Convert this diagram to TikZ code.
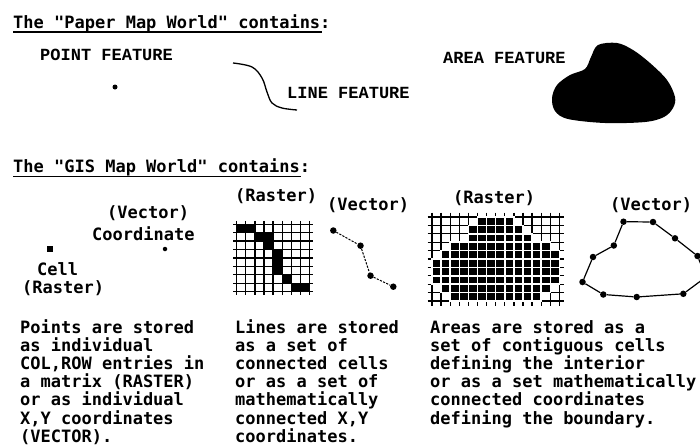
\documentclass[tikz,border=0pt]{standalone}
\usepackage{fontspec}
\newfontfamily\pixfont{DejaVu Sans Mono}
\newfontfamily\labfont{Liberation Mono}
\begin{document}
\begin{tikzpicture}[x=1pt,y=-1pt,
  txt/.style={font=\fontsize{17}{18.33}\pixfont\bfseries, anchor=base west, inner sep=0pt},
  lab/.style={font=\fontsize{17}{20}\labfont\bfseries, anchor=base west, inner sep=0pt},
  gline/.style={line width=1.3pt},
  vdot/.style={circle, fill=black, inner sep=0pt, minimum size=6.5pt},
  sdot/.style={circle, fill=black, inner sep=0pt, minimum size=4.5pt},
  uline/.style={line width=1.4pt},
]
\useasboundingbox (0,0) rectangle (700,447);
\clip (0,0) rectangle (700,447);

% ---------- Paper map world ----------
\node[txt] (h1) at (13,28) {The "Paper Map World" contains:};
\draw[uline] (13,31.8) -- (322,31.8);

\node[lab] (pf) at (40,60) {POINT FEATURE};
\node[sdot, minimum size=5pt] (pdot) at (115,87) {};

\draw[line width=1.3pt] plot[smooth, tension=0.6] coordinates {(233,63) (252,67) (262,78) (267,92) (272,103) (282,108) (297,110)};
\node[lab] (lf) at (287,98) {LINE FEATURE};

\node[lab] (af) at (443,63) {AREA FEATURE};
\fill[black] plot[smooth cycle, tension=0.55] coordinates {(598,45) (617,43) (633,50) (650,63) (667,80) (675,97) (673,108) (664,117) (645,122) (605,123) (568,119) (555,111) (552,98) (557,85) (570,75) (585,69) (591,57)};

% ---------- GIS map world ----------
\node[txt] (h2) at (13,172) {The "GIS Map World" contains:};
\draw[uline] (13,176.5) -- (301,176.5);

% points
\node[txt] (cv) at (107,218) {(Vector)};
\node[txt] (cc) at (92,240) {Coordinate};
\node[fill=black, minimum size=6pt, inner sep=0pt] (cellsq) at (50,249) {};
\node[sdot] (cdot) at (165,249) {};
\node[txt] (cl) at (37,275) {Cell};
\node[txt] (cr) at (22,293) {(Raster)};

% line raster
\node[txt] (lr) at (235,201) {(Raster)};
\def\lx{236.7}\def\ly{224.3}\def\cw{9.1}\def\ch{8.42}
\foreach \c/\r in {0/0,1/0,2/1,3/1,3/2,4/3,4/4,4/5,5/6,6/7,7/7}
  \fill[black] (\lx+\c*\cw,\ly+\r*\ch) rectangle (\lx+\c*\cw+\cw,\ly+\r*\ch+\ch);
\foreach \k in {0,...,8} {
  \draw[gline] (\lx+\k*\cw,\ly-3.5) -- (\lx+\k*\cw,\ly+8*\ch+3.5);
  \draw[gline] (\lx-3.5,\ly+\k*\ch) -- (\lx+8*\cw+3.5,\ly+\k*\ch);
}

% line vector
\node[txt] (lvt) at (327,210) {(Vector)};
\node[vdot] (v1) at (333.3,230.5) {};
\node[vdot] (v2) at (360.5,245.7) {};
\node[vdot] (v3) at (370.5,275.7) {};
\node[vdot] (v4) at (393.3,286.7) {};
\draw[line width=1pt, dash pattern=on 2.2pt off 1.3pt] (v1) -- (v2) -- (v3) -- (v4);

% area raster
\node[txt] (ar) at (453,203) {(Raster)};
\def\ax{432}\def\ay{217}\def\aw{9.1}\def\ah{8.4}
\foreach \k in {0,...,14}
  \draw[gline] (\ax+\k*\aw,\ay-4.5) -- (\ax+\k*\aw,\ay+10*\ah+4.5);
\foreach \k in {0,...,10}
  \draw[gline] (\ax-4.5,\ay+\k*\ah) -- (\ax+14*\aw+4.5,\ay+\k*\ah);
\foreach \r/\a/\b in {0/5/8,1/4/9,2/4/10,3/2/12,4/1/13,5/0/13,6/0/13,7/0/13,8/1/12,9/2/11}
  \foreach \c in {\a,...,\b} {
    \fill[white] (\ax+\c*\aw-0.75,\ay+\r*\ah-0.75) rectangle (\ax+\c*\aw+\aw+0.75,\ay+\r*\ah+\ah+0.75);
  }
\foreach \r/\a/\b in {0/5/8,1/4/9,2/4/10,3/2/12,4/1/13,5/0/13,6/0/13,7/0/13,8/1/12,9/2/11}
  \foreach \c in {\a,...,\b} {
    \fill[black] (\ax+\c*\aw+0.75,\ay+\r*\ah+0.75) rectangle (\ax+\c*\aw+\aw-0.75,\ay+\r*\ah+\ah-0.75);
  }

% area vector
\node[txt] (avt) at (610,210) {(Vector)};
\node[vdot] (a1) at (623.5,221.7) {};
\node[vdot] (a2) at (653,222) {};
\node[vdot] (a3) at (675,238.3) {};
\node[vdot] (a4) at (697.5,256) {};
\coordinate (a5) at (706,277);
\node[vdot] (a6) at (683.3,293.8) {};
\node[vdot] (a7) at (636.7,297) {};
\node[vdot] (a8) at (603.3,294.5) {};
\node[vdot] (a9) at (582.5,282) {};
\node[vdot] (a10) at (593,257) {};
\node[vdot] (a11) at (613.8,245.5) {};
\draw[line width=1.2pt] (a1) -- (a2) -- (a3) -- (a4) -- (a5) -- (a6) -- (a7) -- (a8) -- (a9) -- (a10) -- (a11) -- (a1);

% ---------- descriptions ----------
\foreach \s [count=\n from 0] in {Points are stored, as individual, {COL,ROW entries in}, a matrix (RASTER), or as individual, {X,Y coordinates}, (VECTOR).}
  \node[txt] (pt\n) at (20,333.5+18.1*\n) {\s};
\foreach \s [count=\n from 0] in {Lines are stored, as a set of, connected cells, or as a set of, mathematically, {connected X,Y}, coordinates.}
  \node[txt] (ln\n) at (235,333.5+18.1*\n) {\s};
\foreach \s [count=\n from 0] in {Areas are stored as a, set of contiguous cells, defining the interior, or as a set mathematically, connected coordinates, defining the boundary.}
  \node[txt] (ar\n) at (430,333.5+18.1*\n) {\s};
\end{tikzpicture}
\end{document}
